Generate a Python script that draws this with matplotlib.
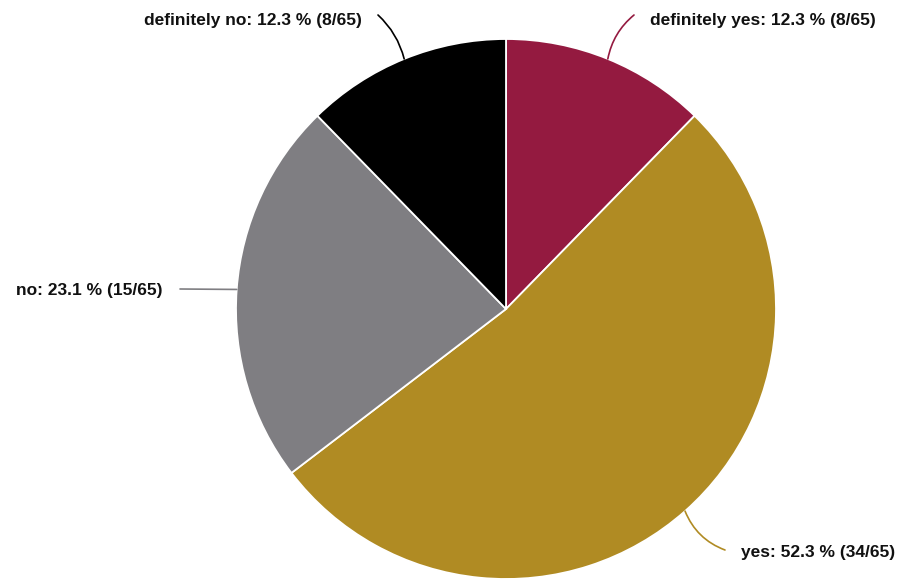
import matplotlib
matplotlib.use("Agg")
import matplotlib.pyplot as plt
import numpy as np

categories = ["definitely yes", "yes", "no", "definitely no"]
counts = [8, 34, 15, 8]
colors = ["#941a40", "#b08b23", "#7f7e82", "#000000"]

W, H = 898, 580
fig = plt.figure(figsize=(W / 100, H / 100), dpi=100)
ax = fig.add_axes([0, 0, 1, 1])

cx, cy, r = 506, H - 309, 270
total = sum(counts)
wedges, _ = ax.pie(counts, colors=colors, startangle=90, counterclock=False,
                   center=(cx, cy), radius=r, frame=True,
                   wedgeprops=dict(edgecolor="white", linewidth=1.3))
ax.set_xlim(0, W)
ax.set_ylim(0, H)
ax.set_aspect("equal")
ax.axis("off")

# label anchor positions (line end, text position, alignment, curvature)
label_cfg = [
    ((634, H - 15), (650, H - 20), "left", 0.18),
    ((725, H - 550), (741, H - 553), "left", -0.22),
    ((180, H - 289), (163, H - 291), "right", 0.0),
    ((378, H - 15), (362, H - 20), "right", -0.15),
]

for w, cat, n, col, (lend, tpos, ha, rad) in zip(wedges, categories, counts, colors, label_cfg):
    mid = np.deg2rad((w.theta1 + w.theta2) / 2)
    ex, ey = cx + r * np.cos(mid), cy + r * np.sin(mid)
    ax.annotate("", xy=(ex, ey), xytext=lend,
                arrowprops=dict(arrowstyle="-", color=col, lw=1.2,
                                shrinkA=0, shrinkB=0,
                                connectionstyle=f"arc3,rad={rad}"))
    pct = 100 * n / total
    ax.text(tpos[0], tpos[1], f"{cat}: {pct:.1f} % ({n}/{total})",
            ha=ha, va="center", fontsize=12.5, fontweight="bold",
            family=["Liberation Sans", "DejaVu Sans"], color="#111111")

fig.savefig("out.png", dpi=100)
